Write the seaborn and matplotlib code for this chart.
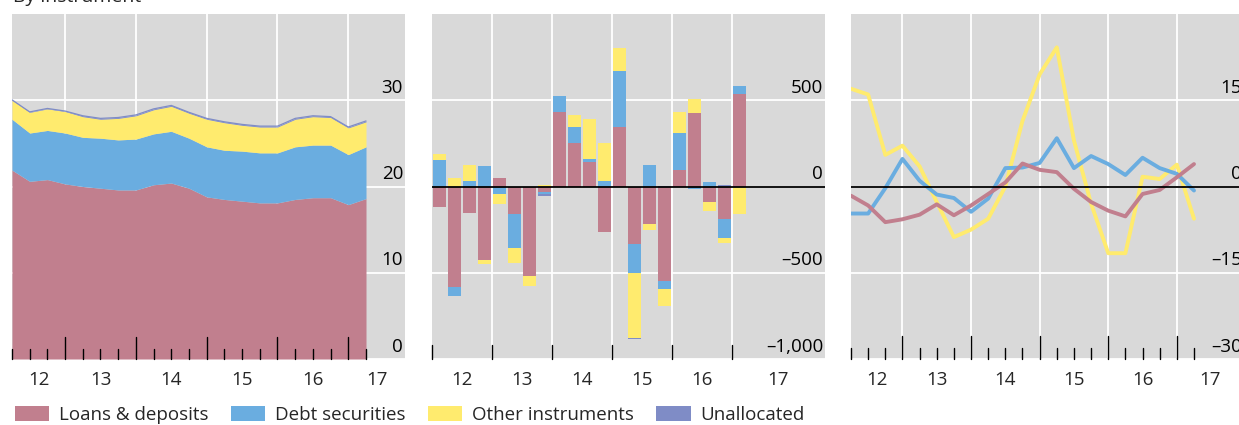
import numpy as np
import pandas as pd
import matplotlib
matplotlib.use("Agg")
import matplotlib.pyplot as plt
import seaborn as sns
from matplotlib.patches import Patch

sns.set_theme(style="white")
plt.rcParams['font.family'] = ['Open Sans', 'DejaVu Sans']

# ---------------- data ----------------
quarters = list(range(21))  # 2012Q1 .. 2017Q1
year_labels = ["12", "13", "14", "15", "16", "17"]
series_names = ["Loans & deposits", "Debt securities", "Other instruments", "Unallocated"]

# Panel 1: stocks (stacked area)
stock_loans = [21.9, 20.6, 20.8, 20.3, 20.0, 19.8, 19.6, 19.6, 20.2, 20.4, 19.8,
               18.8, 18.5, 18.3, 18.1, 18.1, 18.5, 18.7, 18.7, 17.9, 18.6]
stock_debt = [5.9, 5.6, 5.7, 5.9, 5.7, 5.8, 5.8, 5.9, 5.9, 6.0, 5.8,
              5.8, 5.7, 5.8, 5.8, 5.8, 6.1, 6.1, 6.1, 5.8, 6.0]
stock_other = [2.2, 2.4, 2.5, 2.5, 2.4, 2.2, 2.5, 2.7, 2.8, 2.9, 2.9,
               3.2, 3.2, 3.0, 3.0, 3.0, 3.2, 3.3, 3.2, 3.1, 2.9]
stock_unalloc = [0.05, 0.05, 0.05, 0.05, 0.1, 0.1, 0.1, 0.1, 0.1, 0.1, 0.1,
                 0.1, 0.1, 0.1, 0.1, 0.1, 0.1, 0.1, 0.1, 0.1, 0.1]

# Panel 2: flows (stacked bars)
flow_loans = [-120, -582, -152, -428, 48, -158, -520, -33, 429, 250, 140,
              -264, 343, -331, -216, -549, 94, 428, -87, -191, 536]
flow_debt = [154, -54, 31, 121, -43, -198, 0, -13, 96, 96, 17,
             29, 324, -173, 125, -46, 214, -13, 25, -106, 48]
flow_other = [32, 52, 94, -19, -57, -87, -54, 10, 0, 67, 237,
              221, 137, -372, -38, -98, 123, 77, -56, -31, -162]
flow_unalloc = [0, 0, 0, 0, 0, 0, 0, -10, 0, 0, 0,
                0, 0, -8, 0, 5, 0, 4, 0, 6, 0]

# Panel 3: growth rates (lines)
growth_loans = [-1.6, -3.3, -6.2, -5.7, -4.9, -3.1, -5.0, -3.3, -1.3, 0.7, 4.0,
                2.9, 2.5, -0.4, -2.7, -4.2, -5.2, -1.3, -0.6, 1.6, 3.9]
growth_debt = [-4.7, -4.7, -0.3, 4.8, 1.0, -1.4, -2.0, -4.4, -2.1, 3.2, 3.3,
               4.1, 8.4, 3.2, 5.3, 3.9, 2.0, 5.0, 3.2, 2.2, -0.7]
growth_other = [17.0, 16.0, 5.5, 7.1, 3.5, -2.7, -8.8, -7.5, -5.6, 0.0, 11.4,
                19.5, 24.2, 8.0, -3.0, -11.6, -11.6, 1.7, 1.3, 3.8, -5.6]

colors = {"Loans & deposits": "#C17F8E", "Debt securities": "#6AADE0",
          "Other instruments": "#FFEB6E", "Unallocated": "#7F8CC6"}
BG = "#D9D9D9"

# ---------------- figure ----------------
W, H = 1239, 425
fig = plt.figure(figsize=(W / 100, H / 100), dpi=100)

def px_axes(left, top, right, bottom):
    return fig.add_axes([left / W, 1 - bottom / H, (right - left) / W, (bottom - top) / H])

ax1 = px_axes(12, 14, 405, 359)
ax2 = px_axes(432, 14, 825, 359)
ax3 = px_axes(851, 14, 1244, 359)

def style(ax, yticks, ylabels, xlim, major, minor, major_len, minor_len, zero_line):
    ax.set_facecolor(BG)
    for s in ax.spines.values():
        s.set_visible(False)
    ax.set_xlim(*xlim)
    ax.set_ylim(yticks[0], yticks[-1] + (yticks[-1] - yticks[-2]))
    for y in yticks:
        ax.axhline(y, color="white", lw=1.3, zorder=0.5)
    for x in major:
        ax.axvline(x, color="white", lw=1.3, zorder=0.5)
    if zero_line:
        ax.axhline(0, color="black", lw=1.3, zorder=5)
    ax.set_yticks([])
    ax.set_xticks([])
    # inward ticks drawn from the bottom
    trans = ax.get_xaxis_transform()
    for x in major:
        ax.plot([x, x], [0, major_len / 345], transform=trans, color="black", lw=1.0, zorder=6, clip_on=False)
    for x in minor:
        ax.plot([x, x], [0, minor_len / 345], transform=trans, color="black", lw=1.0, zorder=6, clip_on=False)
    # y labels inside on the right, above gridline
    ytrans = ax.get_yaxis_transform()
    for y, lab in zip(yticks, ylabels):
        ax.annotate(lab, xy=(0.995, y), xycoords=ytrans, xytext=(0, 2.5), textcoords="offset points",
                    ha="right", va="bottom", fontsize=13.5, color="black", zorder=7)
    # year labels below
    edges = [xlim[0]] + list(major) + [xlim[1]]
    for k, lab in enumerate(year_labels):
        c = (edges[k] + edges[k + 1]) / 2
        ax.text(c, -0.035, lab, transform=trans, ha="center", va="top", fontsize=13.5)

# ---- panel 1: stacked area ----
df1 = pd.DataFrame({"q": quarters, "Loans & deposits": stock_loans, "Debt securities": stock_debt,
                    "Other instruments": stock_other, "Unallocated": stock_unalloc})
ax1.stackplot(df1["q"], [df1[n] for n in series_names], colors=[colors[n] for n in series_names],
              linewidth=0, zorder=2)
top_line = df1[series_names].sum(axis=1)
sns.lineplot(x=df1["q"], y=top_line, ax=ax1, color=colors["Unallocated"], lw=0.9, zorder=3)
maj1 = [3, 7, 11, 15, 19]
min1 = [q for q in quarters if q not in maj1]
style(ax1, [0, 10, 20, 30], ["0", "10", "20", "30"], (0, 393 / 17.7), maj1, min1, 22, 10, False)
ax1.set_xlabel(""); ax1.set_ylabel("")

# ---- panel 2: stacked bars (positive & negative stacks) ----
flows = {"Loans & deposits": flow_loans, "Debt securities": flow_debt,
         "Other instruments": flow_other, "Unallocated": flow_unalloc}
pos_base = np.zeros(len(quarters))
neg_base = np.zeros(len(quarters))
for n in series_names:
    v = np.array(flows[n], dtype=float)
    pos = np.where(v > 0, v, 0)
    neg = np.where(v < 0, v, 0)
    ax2.bar(quarters, pos, bottom=pos_base, width=0.87, color=colors[n], linewidth=0, zorder=2)
    ax2.bar(quarters, neg, bottom=neg_base, width=0.87, color=colors[n], linewidth=0, zorder=2)
    pos_base += pos
    neg_base += neg
maj2 = [3.5, 7.5, 11.5, 15.5, 19.5]
style(ax2, [-1000, -500, 0, 500], ["\u20131,000", "\u2013500", "0", "500"],
      (-0.5, -0.5 + 393 / 15), maj2, [], 14, 0, True)
trans2 = ax2.get_xaxis_transform()
ax2.plot([-0.5, -0.5], [0, 14 / 345], transform=trans2, color="black", lw=1.0, zorder=6, clip_on=False)

# ---- panel 3: lines ----
df3 = pd.DataFrame({"q": quarters, "Loans & deposits": growth_loans,
                    "Debt securities": growth_debt, "Other instruments": growth_other})
long3 = df3.melt(id_vars="q", var_name="series", value_name="value")
sns.lineplot(data=long3, x="q", y="value", hue="series",
             hue_order=["Other instruments", "Debt securities", "Loans & deposits"],
             palette=colors, lw=2.8, ax=ax3, legend=False, zorder=3)
ax3.set_xlabel(""); ax3.set_ylabel("")
maj3 = [3, 7, 11, 15, 19]
min3 = [q for q in quarters if q not in maj3]
style(ax3, [-30, -15, 0, 15], ["\u201330", "\u201315", "0", "15"], (0, 393 / 17.15), maj3, min3, 23, 11, True)

# ---- title & legend ----
fig.text(13 / W, 1 - 2 / H, "By instrument", ha="left", va="baseline", fontsize=14)
handles = [Patch(facecolor=colors[n], edgecolor="none") for n in series_names]
fig.legend(handles, series_names, loc="center left", bbox_to_anchor=(9 / W, 1 - 415 / H), ncol=4,
           frameon=False, fontsize=13.5, handlelength=1.85, handleheight=0.8, handletextpad=0.5,
           columnspacing=1.2, borderaxespad=0.0, borderpad=0.3)

fig.savefig("out.png", dpi=100)
